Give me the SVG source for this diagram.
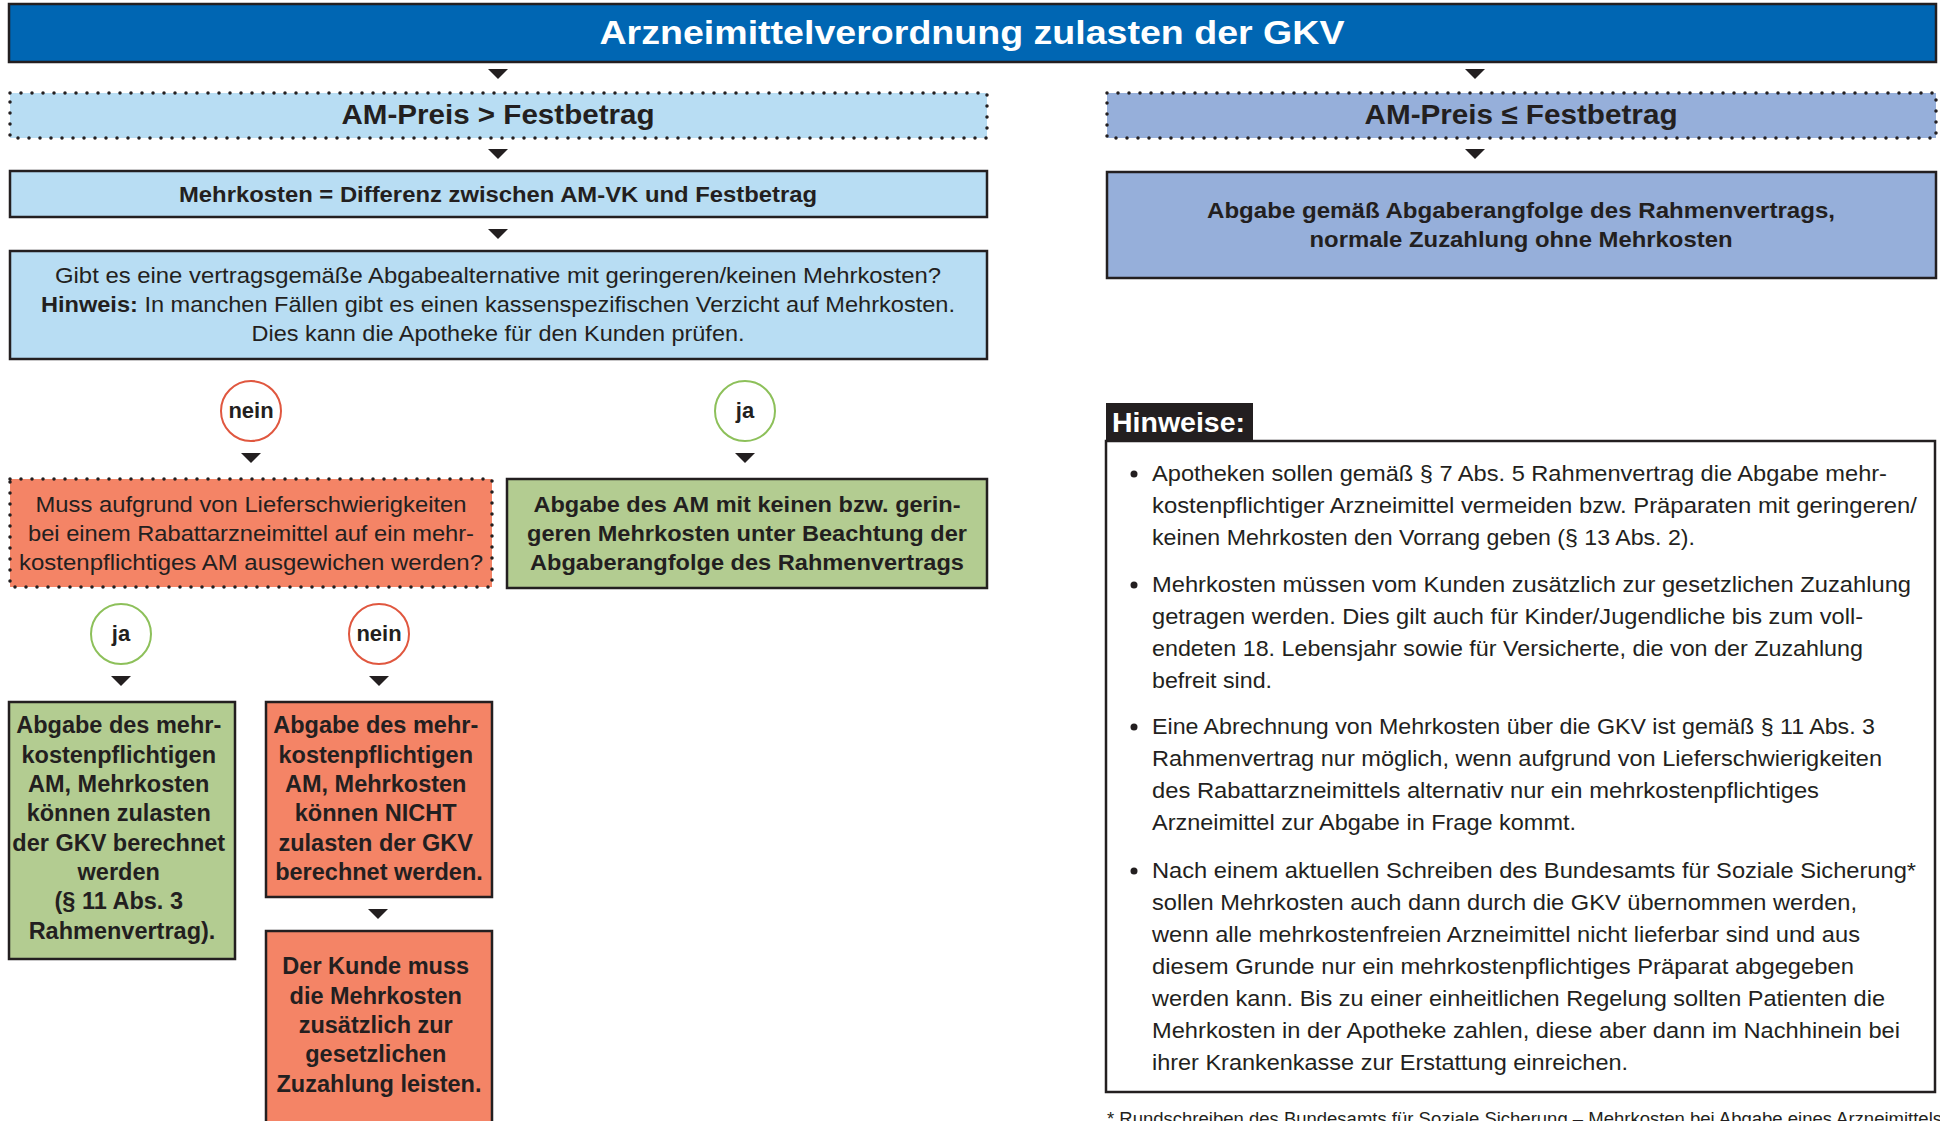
<svg xmlns="http://www.w3.org/2000/svg" width="1940" height="1121" viewBox="0 0 1940 1121">
<defs>
<style>
text{font-family:"Liberation Sans",Arial,sans-serif;fill:#231f20}
.b{font-weight:bold}
.c{text-anchor:middle}
.solid{stroke:#231f20;stroke-width:2.5}
.dot{fill:none;stroke:#231f20;stroke-width:3.5;stroke-linecap:round;stroke-dasharray:0 11}
.lb{fill:#b8ddf3}
.pb{fill:#96afda}
.sal{fill:#f48466}
.gr{fill:#b3cc91}
.cr{fill:#fff;stroke:#e0573f;stroke-width:2}
.cg{fill:#fff;stroke:#8dc05a;stroke-width:2}
.f22{font-size:22px}
.f23{font-size:23.5px}
.n{font-size:22.5px}
.arr{fill:#231f20}
</style>
<path id="tri" d="M-10,0 L10,0 L0,10 Z"/>
</defs>

<g id="header">
<rect x="9" y="4" width="1927" height="58" fill="#0066b3" class="solid"/>
<text x="972" y="44" class="b c" style="font-size:33px;fill:#fff" textLength="745" lengthAdjust="spacingAndGlyphs">Arzneimittelverordnung zulasten der GKV</text>
</g>

<g id="connectors" class="arr">
<use href="#tri" x="498" y="69"/>
<use href="#tri" x="1475" y="69"/>
<use href="#tri" x="498" y="149"/>
<use href="#tri" x="1475" y="149"/>
<use href="#tri" x="498" y="229"/>
<use href="#tri" x="251" y="453"/>
<use href="#tri" x="745" y="453"/>
<use href="#tri" x="121" y="676"/>
<use href="#tri" x="379" y="676"/>
<use href="#tri" x="378" y="909"/>
</g>

<g id="preis-gt">
<rect x="10" y="93" width="977" height="45" class="lb"/>
<rect x="10" y="93" width="977" height="45" class="dot"/>
<text x="498" y="124" class="b c" style="font-size:28px" textLength="313" lengthAdjust="spacingAndGlyphs">AM-Preis &gt; Festbetrag</text>
</g>

<g id="preis-le">
<rect x="1107" y="93" width="829" height="45" class="pb"/>
<rect x="1107" y="93" width="829" height="45" class="dot"/>
<text x="1521" y="124" class="b c" style="font-size:28px" textLength="313" lengthAdjust="spacingAndGlyphs">AM-Preis ≤ Festbetrag</text>
</g>

<g id="mehrkosten">
<rect x="10" y="171" width="977" height="46" class="lb solid"/>
<text x="498" y="202" class="b c f22" textLength="638" lengthAdjust="spacingAndGlyphs">Mehrkosten = Differenz zwischen AM-VK und Festbetrag</text>
</g>

<g id="abgabe-rahmen">
<rect x="1107" y="172" width="829" height="106" class="pb solid"/>
<text x="1521" y="218" class="b c f22" textLength="628" lengthAdjust="spacingAndGlyphs">Abgabe gemäß Abgaberangfolge des Rahmenvertrags,</text>
<text x="1521" y="247" class="b c f22" textLength="423" lengthAdjust="spacingAndGlyphs">normale Zuzahlung ohne Mehrkosten</text>
</g>

<g id="frage">
<rect x="10" y="251" width="977" height="108" class="lb solid"/>
<text x="498" y="283" class="c f22" textLength="886" lengthAdjust="spacingAndGlyphs">Gibt es eine vertragsgemäße Abgabealternative mit geringeren/keinen Mehrkosten?</text>
<text x="498" y="312" class="c f22" textLength="914" lengthAdjust="spacingAndGlyphs"><tspan class="b">Hinweis:</tspan> In manchen Fällen gibt es einen kassenspezifischen Verzicht auf Mehrkosten.</text>
<text x="498" y="341" class="c f22" textLength="493" lengthAdjust="spacingAndGlyphs">Dies kann die Apotheke für den Kunden prüfen.</text>
</g>

<g id="nein1">
<circle cx="251" cy="411" r="30" class="cr"/>
<text x="251" y="418" class="b c f22">nein</text>
</g>

<g id="ja1">
<circle cx="745" cy="411" r="30" class="cg"/>
<text x="745" y="418" class="b c f22">ja</text>
</g>

<g id="liefer">
<rect x="10" y="479" width="482" height="108" class="sal"/>
<rect x="10" y="479" width="482" height="108" class="dot"/>
<text x="251" y="512" class="c f22" textLength="431" lengthAdjust="spacingAndGlyphs">Muss aufgrund von Lieferschwierigkeiten</text>
<text x="251" y="541" class="c f22" textLength="446" lengthAdjust="spacingAndGlyphs">bei einem Rabattarzneimittel auf ein mehr-</text>
<text x="251" y="570" class="c f22" textLength="464" lengthAdjust="spacingAndGlyphs">kostenpflichtiges AM ausgewichen werden?</text>
</g>

<g id="abgabe-gering">
<rect x="507" y="479" width="480" height="109" class="gr solid"/>
<text x="747" y="512" class="b c f22" textLength="427" lengthAdjust="spacingAndGlyphs">Abgabe des AM mit keinen bzw. gerin-</text>
<text x="747" y="541" class="b c f22" textLength="440" lengthAdjust="spacingAndGlyphs">geren Mehrkosten unter Beachtung der</text>
<text x="747" y="570" class="b c f22" textLength="434" lengthAdjust="spacingAndGlyphs">Abgaberangfolge des Rahmenvertrags</text>
</g>

<g id="ja2">
<circle cx="121" cy="634" r="30" class="cg"/>
<text x="121" y="641" class="b c f22">ja</text>
</g>

<g id="nein2">
<circle cx="379" cy="634" r="30" class="cr"/>
<text x="379" y="641" class="b c f22">nein</text>
</g>

<g id="gkv-ja">
<rect x="9" y="702" width="226" height="257" class="gr solid"/>
<text class="b c f23">
<tspan x="122" y="733">Abgabe des mehr-</tspan>
<tspan x="122" y="763">kostenpflichtigen</tspan>
<tspan x="122" y="792">AM, Mehrkosten</tspan>
<tspan x="122" y="821">können zulasten</tspan>
<tspan x="122" y="851">der GKV berechnet</tspan>
<tspan x="122" y="880">werden</tspan>
<tspan x="122" y="909">(§ 11 Abs. 3</tspan>
<tspan x="122" y="939">Rahmenvertrag).</tspan>
</text>
</g>

<g id="gkv-nein">
<rect x="266" y="702" width="226" height="195" class="sal solid"/>
<text class="b c f23">
<tspan x="379" y="733">Abgabe des  mehr-</tspan>
<tspan x="379" y="763">kostenpflichtigen</tspan>
<tspan x="379" y="792">AM, Mehrkosten</tspan>
<tspan x="379" y="821">können NICHT</tspan>
<tspan x="379" y="851">zulasten der GKV</tspan>
<tspan x="379" y="880">berechnet werden.</tspan>
</text>
</g>

<g id="kunde">
<rect x="266" y="931" width="226" height="200" class="sal solid"/>
<text class="b c f23">
<tspan x="379" y="974">Der Kunde muss</tspan>
<tspan x="379" y="1004">die Mehrkosten</tspan>
<tspan x="379" y="1033">zusätzlich zur</tspan>
<tspan x="379" y="1062">gesetzlichen</tspan>
<tspan x="379" y="1092">Zuzahlung leisten.</tspan>
</text>
</g>

<g id="hinweise">
<rect x="1106" y="441" width="829" height="651" fill="#fff" class="solid"/>
<rect x="1106" y="403" width="147" height="38" fill="#231f20"/>
<text x="1112" y="432" class="b" style="font-size:28px;fill:#fff" textLength="133" lengthAdjust="spacingAndGlyphs">Hinweise:</text>
<g fill="#231f20">
<circle cx="1134" cy="474" r="3.5"/>
<circle cx="1134" cy="585" r="3.5"/>
<circle cx="1134" cy="727" r="3.5"/>
<circle cx="1134" cy="871" r="3.5"/>
</g>
<g class="n">
<text x="1152" y="481" textLength="735" lengthAdjust="spacingAndGlyphs">Apotheken sollen gemäß § 7 Abs. 5 Rahmenvertrag die Abgabe mehr-</text>
<text x="1152" y="513" textLength="765" lengthAdjust="spacingAndGlyphs">kostenpflichtiger Arzneimittel vermeiden bzw. Präparaten mit geringeren/</text>
<text x="1152" y="545" textLength="543" lengthAdjust="spacingAndGlyphs">keinen Mehrkosten den Vorrang geben (§ 13 Abs. 2).</text>
<text x="1152" y="592" textLength="759" lengthAdjust="spacingAndGlyphs">Mehrkosten müssen vom Kunden zusätzlich zur gesetzlichen Zuzahlung</text>
<text x="1152" y="624" textLength="711" lengthAdjust="spacingAndGlyphs">getragen werden. Dies gilt auch für Kinder/Jugendliche bis zum voll-</text>
<text x="1152" y="656" textLength="711" lengthAdjust="spacingAndGlyphs">endeten 18. Lebensjahr sowie für Versicherte, die von der Zuzahlung</text>
<text x="1152" y="688" textLength="120" lengthAdjust="spacingAndGlyphs">befreit sind.</text>
<text x="1152" y="734" textLength="723" lengthAdjust="spacingAndGlyphs">Eine Abrechnung von Mehrkosten über die GKV ist gemäß § 11 Abs. 3</text>
<text x="1152" y="766" textLength="730" lengthAdjust="spacingAndGlyphs">Rahmenvertrag nur möglich, wenn aufgrund von Lieferschwierigkeiten</text>
<text x="1152" y="798" textLength="667" lengthAdjust="spacingAndGlyphs">des Rabattarzneimittels alternativ nur ein mehrkostenpflichtiges</text>
<text x="1152" y="830" textLength="424" lengthAdjust="spacingAndGlyphs">Arzneimittel zur Abgabe in Frage kommt.</text>
<text x="1152" y="878" textLength="764" lengthAdjust="spacingAndGlyphs">Nach einem aktuellen Schreiben des Bundesamts für Soziale Sicherung*</text>
<text x="1152" y="910" textLength="705" lengthAdjust="spacingAndGlyphs">sollen Mehrkosten auch dann durch die GKV übernommen werden,</text>
<text x="1152" y="942" textLength="708" lengthAdjust="spacingAndGlyphs">wenn alle mehrkostenfreien Arzneimittel nicht lieferbar sind und aus</text>
<text x="1152" y="974" textLength="702" lengthAdjust="spacingAndGlyphs">diesem Grunde nur ein mehrkostenpflichtiges Präparat abgegeben</text>
<text x="1152" y="1006" textLength="733" lengthAdjust="spacingAndGlyphs">werden kann. Bis zu einer einheitlichen Regelung sollten Patienten die</text>
<text x="1152" y="1038" textLength="748" lengthAdjust="spacingAndGlyphs">Mehrkosten in der Apotheke zahlen, diese aber dann im Nachhinein bei</text>
<text x="1152" y="1070" textLength="476" lengthAdjust="spacingAndGlyphs">ihrer Krankenkasse zur Erstattung einreichen.</text>
</g>
</g>

<g id="fussnote">
<text x="1107" y="1125" style="font-size:18px" textLength="835" lengthAdjust="spacingAndGlyphs">* Rundschreiben des Bundesamts für Soziale Sicherung – Mehrkosten bei Abgabe eines Arzneimittels</text>
</g>
</svg>
